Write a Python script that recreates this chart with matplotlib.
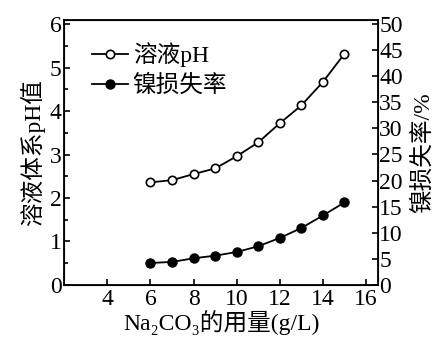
import matplotlib
matplotlib.use("Agg")
import matplotlib.pyplot as plt
from matplotlib.ticker import MultipleLocator

# data
na2co3 = [6, 7, 8, 9, 10, 11, 12, 13, 14, 15]
ph_values = [2.36, 2.41, 2.55, 2.68, 2.96, 3.28, 3.72, 4.13, 4.67, 5.32]
ni_loss = [4.2, 4.4, 5.1, 5.6, 6.3, 7.4, 9.0, 10.9, 13.3, 15.8]

xticks = [4, 6, 8, 10, 12, 14, 16]
fam = ['Liberation Serif', 'DejaVu Serif', 'Noto Sans CJK SC']
plt.rcParams['font.family'] = fam

fig = plt.figure(figsize=(4.43, 3.42), dpi=100)
ax = fig.add_axes([0.145, 0.167, 0.708, 0.775])
ax2 = ax.twinx()

l1, = ax.plot(na2co3, ph_values, color='black', lw=1.3, marker='o', ms=6,
              markerfacecolor='white', markeredgewidth=1.2, label='溶液pH')
l2, = ax2.plot(na2co3, ni_loss, color='black', lw=1.3, marker='o', ms=6.5,
               markerfacecolor='black', label='镍损失率')

ax.set_xlim(2, 16.55)
ax.set_ylim(0, 6.1)
ax2.set_ylim(0, 50.8)
ax.set_xticks(xticks)
ax.yaxis.set_major_locator(MultipleLocator(1))
ax.yaxis.set_minor_locator(MultipleLocator(0.5))
ax2.yaxis.set_major_locator(MultipleLocator(5))

ax.tick_params(axis='both', which='both', direction='in', labelsize=17, width=1.2)
ax.tick_params(which='major', length=4)
ax.tick_params(which='minor', length=3)
ax.tick_params(axis='y', pad=2)
ax.tick_params(axis='x', pad=3)
ax2.tick_params(axis='y', direction='in', labelsize=17, length=4, width=1.2, pad=1)
for s in ax.spines.values():
    s.set_linewidth(1.3)

ax.set_xlabel('Na₂CO₃的用量(g/L)', fontsize=17, labelpad=0)
ax.set_ylabel('溶液体系pH值', fontsize=17, labelpad=3)
ax2.set_ylabel('镍损失率/%', fontsize=17, labelpad=6)

ax.legend(handles=[l1, l2], loc='upper left', frameon=False, fontsize=17,
          handlelength=1.5, handletextpad=0.2, labelspacing=0.3,
          bbox_to_anchor=(0.06, 0.95), borderaxespad=0)

fig.savefig('out.png', dpi=100)
